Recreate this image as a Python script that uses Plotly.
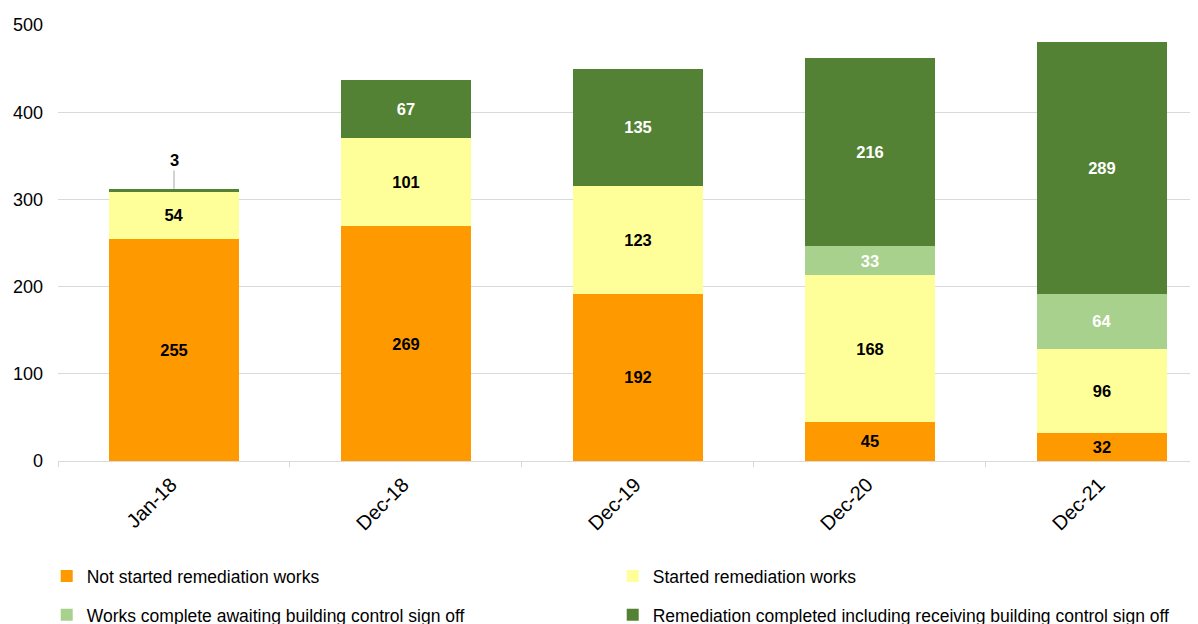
import plotly.graph_objects as go

categories = ["Jan-18", "Dec-18", "Dec-19", "Dec-20", "Dec-21"]
not_started = [255, 269, 192, 45, 32]
started = [54, 101, 123, 168, 96]
awaiting_signoff = [0, 0, 0, 33, 64]
completed = [3, 67, 135, 216, 289]

series = [
    ("Not started remediation works", not_started, "#FF9900", "#000000", "legend"),
    ("Started remediation works", started, "#FFFF99", "#000000", "legend"),
    ("Works complete awaiting building control sign off", awaiting_signoff, "#A9D18E", "#FFFFFF", "legend2"),
    ("Remediation completed including receiving building control sign off", completed, "#548235", "#FFFFFF", "legend2"),
]

FONT = "Liberation Sans, Arial"

fig = go.Figure()
for name, vals, color, tcolor, leg in series:
    texts = []
    for i, v in enumerate(vals):
        if v == 0:
            texts.append("")
        elif name.startswith("Remediation") and i == 0:
            texts.append("")
        else:
            texts.append(str(v))
    fig.add_trace(go.Bar(
        x=categories, y=vals, name=name, marker=dict(color=color, line=dict(width=0)),
        text=texts, textposition="inside", insidetextanchor="middle",
        textangle=0,
        textfont=dict(family=FONT, size=16.5, color=tcolor, weight="bold"),
        width=0.56, legend=leg,
    ))

# small segment label with leader line
fig.add_annotation(x=categories[0], y=not_started[0] + started[0] + completed[0],
                   text=f"<b>{completed[0]}</b>", showarrow=True, arrowhead=0,
                   arrowcolor="#A6A6A6", arrowwidth=1, ax=0, ay=-29, standoff=0,
                   font=dict(family=FONT, size=16.5, color="#000000"))

legend_common = dict(orientation="h", x=-0.0099, xanchor="left", yanchor="middle",
                     entrywidth=521, entrywidthmode="pixels", traceorder="normal",
                     font=dict(family=FONT, size=17.5, color="#000000"),
                     bgcolor="rgba(0,0,0,0)")

fig.update_layout(
    barmode="stack",
    width=1198, height=624,
    margin=dict(l=50, r=8, t=17, b=171, autoexpand=False),
    plot_bgcolor="white", paper_bgcolor="white",
    font=dict(family=FONT, size=17.5, color="#000000"),
    legend=dict(y=-0.264, **legend_common),
    legend2=dict(y=-0.353, **legend_common),
    showlegend=True,
)
fig.update_xaxes(range=[-0.5, 4.414], showline=True, linecolor="#D9D9D9", linewidth=1,
                 ticks="outside", tickson="boundaries", ticklen=5, tickcolor="#D9D9D9",
                 tickangle=-45, tickfont=dict(family=FONT, size=20, color="#000000"),
                 ticklabelshift=-3, ticklabelstandoff=3,
                 showgrid=False, automargin=False)
fig.update_yaxes(range=[0, 500], dtick=100, showgrid=True, gridcolor="#D9D9D9", gridwidth=1,
                 zeroline=False, tickfont=dict(family=FONT, size=18, color="#000000"), ticks="",
                 ticklabelstandoff=14, automargin=False)

fig.write_html("out.html")
